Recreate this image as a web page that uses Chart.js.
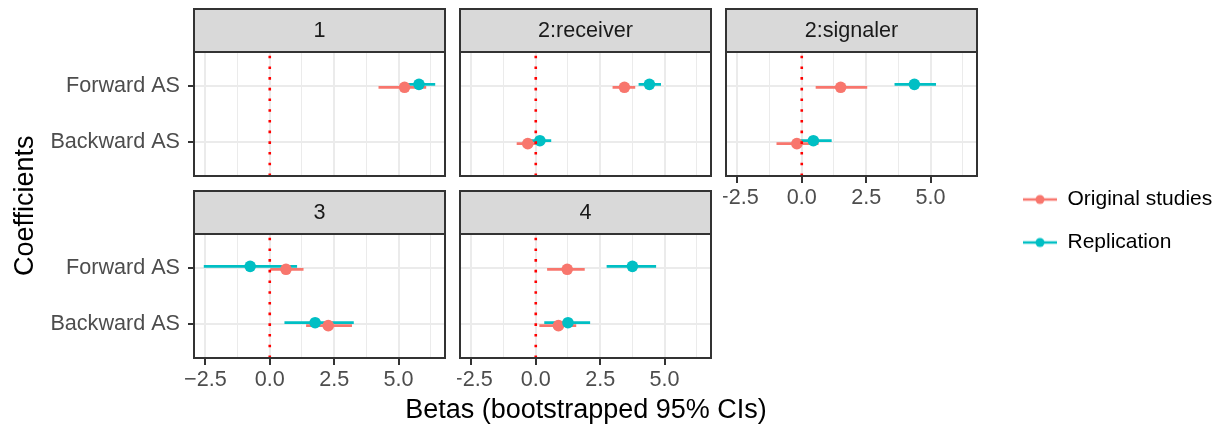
<!DOCTYPE html>
<html>
<head>
<meta charset="utf-8">
<script src="https://cdn.jsdelivr.net/npm/chart.js@4/dist/chart.umd.min.js"></script>
<style>
html,body{margin:0;padding:0;background:#fff;width:1227px;height:428px;overflow:hidden;position:relative}
canvas{position:absolute}
</style>
</head>
<body>
<script>
// ---------------- data ----------------
const panelNames = ['1', '2:receiver', '2:signaler', '3', '4'];
const coefNames = ['Forward AS', 'Backward AS'];
const coefPos = [2, 1];
const seriesNames = ['Original studies', 'Replication'];

// per panel: [Forward AS, Backward AS]
const origEst = [[5.23, null], [3.44, -0.31], [1.51, -0.19], [0.63, 2.27], [1.22, 0.88]];
const origLo  = [[4.22, null], [2.98, -0.74], [0.54, -0.98], [0.02, 1.41], [0.44, 0.14]];
const origHi  = [[6.07, null], [3.86,  0.12], [2.54,  0.65], [1.31, 3.19], [1.90, 1.57]];
const repEst  = [[5.79, null], [4.41,  0.16], [4.37,  0.45], [-0.76, 1.76], [3.75, 1.25]];
const repLo   = [[5.25, null], [3.99, -0.20], [3.60, -0.05], [-2.56, 0.57], [2.75, 0.33]];
const repHi   = [[6.42, null], [4.86,  0.60], [5.21,  1.16], [1.06, 3.26], [4.67, 2.11]];
const refValue = 0;

const xMajorTicks = [-2.5, 0, 2.5, 5];
const xTickLabels = ['\u22122.5', '0.0', '2.5', '5.0'];
const xMinorTicks = [-1.25, 1.25, 3.75, 6.25];
const xTitle = 'Betas (bootstrapped 95% CIs)';
const yTitle = 'Coefficients';

// ---------------- styling / layout ----------------
const seriesColors = ['#F8766D', '#00BFC4'];
const seriesEst = [origEst, repEst], seriesLo = [origLo, repLo], seriesHi = [origHi, repHi];
const dodge = [-0.026, 0.026];
const X_MIN = -2.94, X_MAX = 6.80, Y_MIN = 0.4, Y_MAX = 2.6;
const COL_LEFT = [194, 460, 726];
const ROW_TOP = [9, 191];
const PANEL_W = 251, STRIP_H = 43, PANEL_H = 124;
const panelGrid = [[0, 0], [0, 1], [0, 2], [1, 0], [1, 1]];
const FONT = "'Liberation Sans', Arial, Helvetica, sans-serif";
const TICK_SIZE = 21.6;

Chart.defaults.font.family = FONT;
Chart.defaults.animation = false;

function makeCanvas(left, top, w, h) {
  const c = document.createElement('canvas');
  c.width = w; c.height = h;
  c.style.left = left + 'px'; c.style.top = top + 'px';
  c.style.width = w + 'px'; c.style.height = h + 'px';
  document.body.appendChild(c);
  return c;
}

const isMajor = v => xMajorTicks.some(m => Math.abs(m - v) < 1e-9);
const xAllTicks = xMajorTicks.concat(xMinorTicks).sort((a, b) => a - b);
function noPad(s) { s.paddingTop = 0; s.paddingBottom = 0; s.paddingLeft = 0; s.paddingRight = 0; }

const facetFrame = {
  id: 'facetFrame',
  beforeDraw(chart) {
    const a = chart.chartArea, tb = chart.titleBlock, ctx = chart.ctx;
    ctx.save();
    ctx.fillStyle = '#D9D9D9';
    ctx.fillRect(a.left, tb.top, a.right - a.left, a.top - tb.top);
    ctx.lineWidth = 2;
    ctx.strokeStyle = '#333333';
    ctx.strokeRect(a.left, tb.top, a.right - a.left, a.top - tb.top);
    ctx.restore();
  },
  afterDraw(chart) {
    const a = chart.chartArea, ctx = chart.ctx;
    ctx.save();
    ctx.lineWidth = 2;
    ctx.strokeStyle = '#333333';
    ctx.strokeRect(a.left, a.top, a.right - a.left, a.bottom - a.top);
    ctx.restore();
  }
};

// ---------------- background chart: shared axis titles ----------------
(function () {
  const c = makeCanvas(0, 0, 1227, 428);
  new Chart(c, {
    type: 'scatter',
    data: { datasets: [] },
    options: {
      responsive: false, devicePixelRatio: 1, events: [],
      layout: { autoPadding: false, padding: { top: 13.6, right: 249, left: 0, bottom: 0 } },
      plugins: { legend: { display: false }, tooltip: { enabled: false } },
      scales: {
        x: {
          type: 'linear', min: 0, max: 1,
          grid: { display: false }, border: { display: false }, ticks: { display: false },
          title: { display: true, text: xTitle, color: '#000000', font: { size: 27 }, padding: { top: 0, bottom: 1.2 } },
          afterFit(s) { s.height = 30; noPad(s); }
        },
        y: {
          type: 'linear', min: 0, max: 1,
          grid: { display: false }, border: { display: false }, ticks: { display: false },
          title: { display: true, text: yTitle, color: '#000000', font: { size: 27 }, padding: { top: 9.4, bottom: 0 } },
          afterFit(s) { s.width = 194; noPad(s); }
        }
      }
    }
  });
})();

// ---------------- facet panels ----------------
function panelChart(i) {
  const row = panelGrid[i][0], col = panelGrid[i][1];
  const showY = col === 0;
  const showX = row === 1 || col === 2;
  const axisW = showY ? 164 : 3;
  const axisH = showX ? 45 : 3;
  const w = axisW + PANEL_W + 3, h = 2 + STRIP_H + PANEL_H + axisH;
  const canvas = makeCanvas(COL_LEFT[col] - axisW, ROW_TOP[row] - 2, w, h);

  const datasets = [];
  datasets.push({
    label: 'zero', data: [{ x: refValue, y: Y_MIN }, { x: refValue, y: Y_MAX }],
    showLine: true, borderColor: '#FF0000', borderWidth: 2.6, borderDash: [2.6, 8.1],
    borderCapStyle: 'butt', pointRadius: 0, order: 0
  });
  seriesNames.forEach((name, s) => {
    const est = seriesEst[s][i], lo = seriesLo[s][i], hi = seriesHi[s][i];
    const bars = [], pts = [];
    coefNames.forEach((cn, j) => {
      if (est[j] === null) return;
      const y = coefPos[j] + dodge[s];
      bars.push({ x: lo[j], y: y }, { x: hi[j], y: y }, { x: est[j], y: null });
      pts.push({ x: est[j], y: y });
    });
    datasets.push({
      label: name + ' CI', data: bars, showLine: true, spanGaps: false,
      borderColor: seriesColors[s], borderWidth: 2.7, borderCapStyle: 'butt',
      pointRadius: 0, order: 4 - s
    });
    datasets.push({
      label: name, data: pts, showLine: false,
      pointRadius: 5.8, pointBackgroundColor: seriesColors[s], pointBorderWidth: 0,
      order: 2 - s
    });
  });

  new Chart(canvas, {
    type: 'scatter',
    data: { datasets },
    options: {
      responsive: false, devicePixelRatio: 1, events: [],
      layout: { autoPadding: false, padding: { top: 2, right: 3, left: 0, bottom: 0 } },
      plugins: {
        legend: { display: false }, tooltip: { enabled: false },
        title: {
          display: true, text: panelNames[i], fullSize: false, color: '#1A1A1A',
          font: { size: TICK_SIZE, lineHeight: 1.2, weight: 'normal' },
          padding: { top: 9, bottom: STRIP_H - TICK_SIZE * 1.2 - 9 }
        }
      },
      scales: {
        x: {
          type: 'linear', min: X_MIN, max: X_MAX, bounds: 'data',
          afterBuildTicks(s) { s.ticks = xAllTicks.map(v => ({ value: v })); },
          afterFit(s) { s.height = axisH; noPad(s); },
          border: { display: false },
          grid: {
            display: true, drawTicks: showX, tickLength: 7,
            color: '#EBEBEB',
            lineWidth: ctx => (ctx.tick && isMajor(ctx.tick.value)) ? 2 : 1,
            tickColor: ctx => (ctx.tick && isMajor(ctx.tick.value)) ? '#333333' : 'rgba(0,0,0,0)',
            tickWidth: 2
          },
          ticks: {
            display: showX, autoSkip: false, maxRotation: 0, minRotation: 0,
            padding: 2, color: '#4D4D4D', font: { size: TICK_SIZE },
            callback: v => { const k = xMajorTicks.findIndex(m => Math.abs(m - v) < 1e-9); return k >= 0 ? xTickLabels[k] : ''; }
          }
        },
        y: {
          type: 'linear', min: Y_MIN, max: Y_MAX, bounds: 'data',
          afterBuildTicks(s) { s.ticks = coefPos.slice().sort((a, b) => a - b).map(v => ({ value: v })); },
          afterFit(s) { s.width = axisW; noPad(s); },
          border: { display: false },
          grid: {
            display: true, drawTicks: showY, tickLength: 6,
            color: '#EBEBEB', lineWidth: 2, tickColor: '#333333', tickWidth: 2
          },
          ticks: {
            display: showY, autoSkip: false, padding: 8, color: '#4D4D4D', font: { size: TICK_SIZE },
            callback: v => { const k = coefPos.indexOf(v); return k >= 0 ? coefNames[k] : ''; }
          }
        }
      }
    },
    plugins: [facetFrame]
  });
}
panelNames.forEach((n, i) => panelChart(i));

// ---------------- legend ----------------
(function () {
  const keys = seriesColors.map(col => {
    const c = document.createElement('canvas');
    c.width = 34; c.height = 12;
    const g = c.getContext('2d');
    g.strokeStyle = col; g.lineWidth = 2.7;
    g.beginPath(); g.moveTo(0, 6); g.lineTo(34, 6); g.stroke();
    g.fillStyle = col;
    g.beginPath(); g.arc(17, 6, 4.5, 0, Math.PI * 2); g.fill();
    return c;
  });
  const c = makeCanvas(1001, 167, 226, 250);
  new Chart(c, {
    type: 'scatter',
    data: { datasets: seriesNames.map((n, s) => ({ label: n, data: [], backgroundColor: seriesColors[s], borderColor: seriesColors[s] })) },
    options: {
      responsive: false, devicePixelRatio: 1, events: [],
      layout: { autoPadding: false, padding: 0 },
      scales: { x: { display: false }, y: { display: false } },
      plugins: {
        tooltip: { enabled: false },
        legend: {
          display: true, position: 'top', align: 'start',
          labels: {
            usePointStyle: true, pointStyleWidth: 34, color: '#000000',
            font: { size: 21 }, padding: 22,
            generateLabels: () => seriesNames.map((n, s) => ({
              text: n, pointStyle: keys[s], fillStyle: seriesColors[s], strokeStyle: seriesColors[s],
              lineWidth: 0, hidden: false, datasetIndex: s, fontColor: '#000000'
            }))
          }
        }
      }
    }
  });
})();
</script>
</body>
</html>
